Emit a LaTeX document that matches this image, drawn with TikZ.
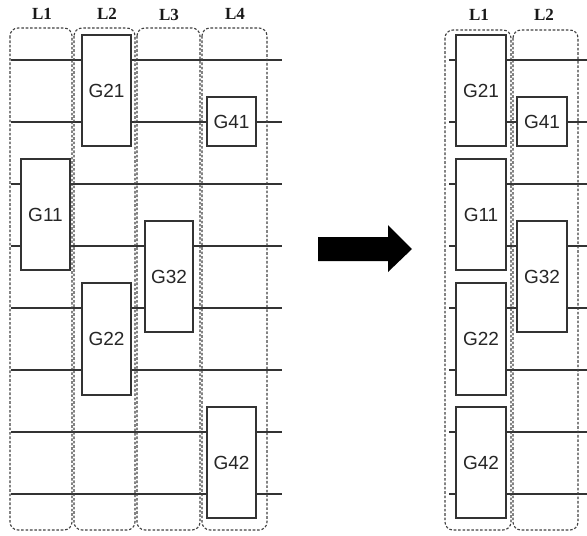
\documentclass[tikz,border=0pt]{standalone}
\usepackage{fontspec}
\setmainfont{Liberation Serif}
\newfontfamily\gatefont{Liberation Sans}
\begin{document}
\begin{tikzpicture}[x=1pt,y=-1pt,
  wire/.style={draw=black!80,line width=1.1pt},
  gate/.style={draw=black!80,fill=white,line width=1.2pt,inner sep=0pt,font=\gatefont\fontsize{19}{19}\selectfont,text=black!85},
  layer/.style={draw=black!75,line width=1.1pt,dash pattern=on 2.6pt off 1.8pt,rounded corners=8pt},
  lab/.style={font=\bfseries\fontsize{17}{17}\selectfont,text=black!90}]
\useasboundingbox (0,0) rectangle (587,536);
% wires
\foreach \i/\y in {1/60,2/122,3/184,4/246,5/308,6/370,7/432,8/494}{
  \coordinate (la\i) at (11,\y);
  \coordinate (lb\i) at (282,\y);
  \draw[wire] (la\i) -- (lb\i);
  \coordinate (ra\i) at (449,\y);
  \coordinate (rb\i) at (587,\y);
  \draw[wire] (ra\i) -- (rb\i);
}
% gates left
\node[gate,minimum width=49pt,minimum height=111pt] (G21) at (106.5,90.5) {G21};
\node[gate,minimum width=49pt,minimum height=49pt] (G41) at (231.5,121.5) {G41};
\node[gate,minimum width=49pt,minimum height=111pt] (G11) at (45.5,214.5) {G11};
\node[gate,minimum width=48pt,minimum height=111pt] (G32) at (169,276.5) {G32};
\node[gate,minimum width=49pt,minimum height=112pt] (G22) at (106.5,339) {G22};
\node[gate,minimum width=49pt,minimum height=111pt] (G42) at (231.5,462.5) {G42};
% gates right
\node[gate,minimum width=50pt,minimum height=111pt] (rG21) at (481,90.5) {G21};
\node[gate,minimum width=50pt,minimum height=111pt] (rG11) at (481,214.5) {G11};
\node[gate,minimum width=50pt,minimum height=112pt] (rG22) at (481,339) {G22};
\node[gate,minimum width=50pt,minimum height=111pt] (rG42) at (481,462.5) {G42};
\node[gate,minimum width=50pt,minimum height=49pt] (rG41) at (542,121.5) {G41};
\node[gate,minimum width=50pt,minimum height=111pt] (rG32) at (542,276.5) {G32};
% layers
\draw[layer] (10,28) rectangle (72,530);
\draw[layer] (74,28) rectangle (135,530);
\draw[layer] (137,28) rectangle (200,530);
\draw[layer] (202,28) rectangle (267,530);
\draw[layer] (445,30) rectangle (511,530);
\draw[layer] (513,30) rectangle (578,530);
% labels
\node[lab] (l1) at (42,14) {L1};
\node[lab] (l2) at (107,14) {L2};
\node[lab] (l3) at (169,15) {L3};
\node[lab] (l4) at (235,14) {L4};
\node[lab] (rl1) at (479,15) {L1};
\node[lab] (rl2) at (544,15) {L2};
% arrow
\fill[black] (318,237) -- (388,237) -- (388,225) -- (412,249) -- (388,272) -- (388,261) -- (318,261) -- cycle;
\end{tikzpicture}
\end{document}
